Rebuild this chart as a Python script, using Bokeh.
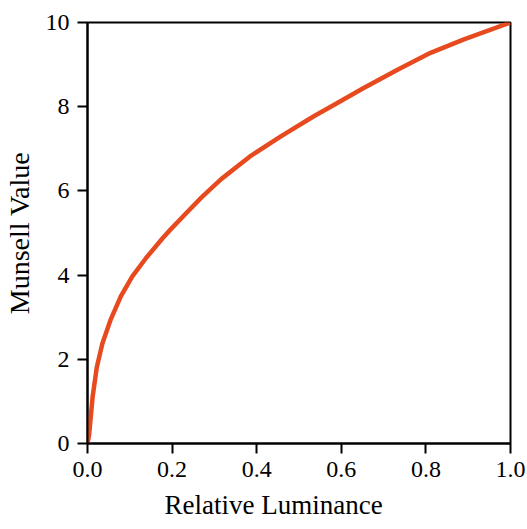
from bokeh.plotting import figure
from bokeh.models import Range1d, FixedTicker, Title
from bokeh.embed import file_html
from bokeh.resources import INLINE

# Data
luminance = [0, 0.004, 0.012, 0.022, 0.035, 0.055, 0.079, 0.106, 0.138, 0.177, 0.196,
             0.236, 0.269, 0.316, 0.387, 0.458, 0.536, 0.575, 0.654, 0.733, 0.811,
             0.890, 1.0]
munsell = [0, 0.23, 1.10, 1.81, 2.37, 2.95, 3.50, 3.97, 4.40, 4.87, 5.08,
           5.50, 5.84, 6.28, 6.84, 7.30, 7.78, 8.00, 8.45, 8.88, 9.28,
           9.60, 10.0]
x_ticks = [0, 0.2, 0.4, 0.6, 0.8, 1.0]
y_ticks = [0, 2, 4, 6, 8, 10]

FONT = "Liberation Serif"

p = figure(width=527, height=529, output_backend="svg", toolbar_location=None,
           x_range=Range1d(0, 1), y_range=Range1d(0, 10),
           min_border_left=86, min_border_right=17, min_border_top=22, min_border_bottom=86)

p.line(luminance, munsell, line_color="#E84A1F", line_width=4.5, line_join="round")

p.grid.visible = False
p.outline_line_color = "black"
p.outline_line_width = 2
p.background_fill_color = "white"
p.border_fill_color = "white"

for ax in (p.xaxis[0], p.yaxis[0]):
    ax.axis_line_width = 2
    ax.axis_line_color = "black"
    ax.major_tick_line_width = 2
    ax.major_tick_line_color = "black"
    ax.major_tick_out = 10
    ax.major_tick_in = 0
    ax.minor_tick_line_color = None
    ax.major_label_text_font = FONT
    ax.major_label_text_font_size = "24px"
    ax.major_label_text_color = "black"
    ax.major_label_standoff = 8

p.xaxis[0].ticker = FixedTicker(ticks=x_ticks)
p.yaxis[0].ticker = FixedTicker(ticks=y_ticks)
p.xaxis[0].major_label_overrides = {t: f"{t:.1f}" for t in x_ticks}
p.yaxis[0].major_label_overrides = {t: str(t) for t in y_ticks}

p.yaxis[0].axis_label = "Munsell Value"
p.yaxis[0].axis_label_text_font = FONT
p.yaxis[0].axis_label_text_font_size = "28px"
p.yaxis[0].axis_label_text_font_style = "normal"
p.yaxis[0].axis_label_text_color = "black"
p.yaxis[0].axis_label_standoff = 8

xlabel = Title(text="Relative Luminance", align="left", offset=77,
               text_font=FONT, text_font_size="27px", text_font_style="normal",
               text_color="black", standoff=16)
p.add_layout(xlabel, "below")

open("out.html", "w").write(file_html(p, INLINE))
